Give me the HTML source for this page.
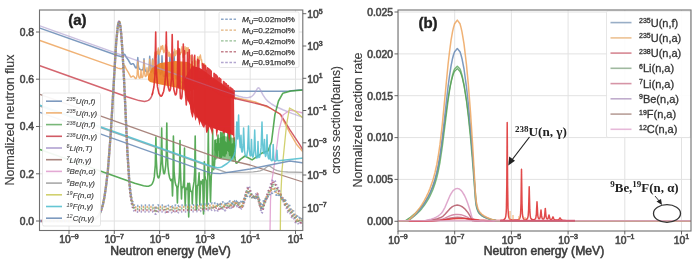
<!DOCTYPE html>
<html><head><meta charset="utf-8"><style>
html,body{margin:0;padding:0;background:#fff;}
body{width:700px;height:263px;overflow:hidden;}
svg{display:block;font-family:"Liberation Sans",sans-serif;filter:blur(0.45px);}
</style></head><body>
<svg x="0" y="0" width="700" height="263"><defs><clipPath id="cl"><rect x="39.5" y="10" width="263.3" height="220.5"/></clipPath><clipPath id="cr"><rect x="398" y="10" width="293" height="221"/></clipPath><filter id="bl" x="-5%" y="-5%" width="110%" height="110%"><feGaussianBlur stdDeviation="0.55"/></filter></defs>
<g clip-path="url(#cl)"><g filter="url(#bl)"><line x1="69.0" y1="10" x2="69.0" y2="230.5" stroke="#e2e2e2" stroke-width="1"/>
<line x1="114.3" y1="10" x2="114.3" y2="230.5" stroke="#e2e2e2" stroke-width="1"/>
<line x1="159.6" y1="10" x2="159.6" y2="230.5" stroke="#e2e2e2" stroke-width="1"/>
<line x1="204.9" y1="10" x2="204.9" y2="230.5" stroke="#e2e2e2" stroke-width="1"/>
<line x1="250.2" y1="10" x2="250.2" y2="230.5" stroke="#e2e2e2" stroke-width="1"/>
<line x1="295.5" y1="10" x2="295.5" y2="230.5" stroke="#e2e2e2" stroke-width="1"/>
<line x1="39.5" y1="221.0" x2="302.8" y2="221.0" stroke="#e2e2e2" stroke-width="1"/>
<line x1="39.5" y1="173.8" x2="302.8" y2="173.8" stroke="#e2e2e2" stroke-width="1"/>
<line x1="39.5" y1="126.5" x2="302.8" y2="126.5" stroke="#e2e2e2" stroke-width="1"/>
<line x1="39.5" y1="79.2" x2="302.8" y2="79.2" stroke="#e2e2e2" stroke-width="1"/>
<line x1="39.5" y1="32.0" x2="302.8" y2="32.0" stroke="#e2e2e2" stroke-width="1"/>
<polyline points="38.5,27.6 118.1,55.8 120.7,56.5 122.1,56.4 122.9,56.0 124.1,54.4 124.5,54.2 124.9,54.6 126.3,57.3 128.3,60.0 130.5,63.8 131.3,64.3 132.5,63.7 133.3,63.8 134.1,64.8 135.5,67.7 135.9,68.0 136.7,67.5 137.1,66.2 137.8,57.5 138.3,64.9 138.7,67.5 139.5,69.0 141.1,69.9 141.9,70.1 142.5,69.9 143.1,68.9 143.5,66.3 144.0,58.7 144.5,66.5 144.9,69.4 145.7,71.1 146.9,71.8 147.7,71.9 148.3,71.5 148.9,69.8 149.3,65.4 149.7,56.3 150.1,65.5 150.7,70.9 150.9,71.5 151.3,71.9 151.7,71.4 151.9,70.6 152.6,59.1 153.3,71.1 153.9,73.3 154.5,74.1 155.3,74.4 156.1,74.4 156.7,74.0 157.1,73.2 157.5,71.5 158.1,63.4 158.5,49.8 159.1,67.5 159.7,72.8 160.1,74.0 160.5,74.4 160.7,74.3 161.1,73.4 161.3,72.2 161.7,65.7 162.0,55.7 162.7,72.7 163.3,75.6 163.7,76.3 164.1,76.5 164.7,76.3 165.1,75.7 165.7,72.6 166.1,66.3 166.5,52.8 167.1,70.3 167.7,75.3 168.1,76.3 168.5,76.4 168.7,76.2 169.3,73.0 170.0,54.8 170.5,70.3 170.9,75.0 171.3,76.9 171.7,77.6 172.1,77.7 172.5,77.0 172.9,75.4 173.3,71.6 174.0,51.9 174.7,71.8 175.3,76.8 175.9,78.4 176.3,78.5 176.7,77.7 177.3,73.4 178.0,53.9 178.5,70.1 178.9,75.9 179.5,79.4 180.1,80.9 180.7,81.7 181.7,82.3 183.1,82.6 191.7,83.2 197.1,84.2 217.5,91.3 285.5,91.3 289.3,91.1 298.9,89.9 303.7,89.8" fill="none" stroke="#6f8fb8" stroke-width="1.5" stroke-linejoin="round"  opacity="0.9"/>
<polyline points="38.5,40.0 105.1,63.7 117.9,68.1 120.5,68.7 122.1,68.5 122.9,67.9 124.1,65.8 124.5,65.5 124.9,65.9 126.3,69.2 128.3,72.3 130.7,76.8 131.1,77.0 131.5,77.0 132.7,76.1 133.3,76.0 133.9,76.5 135.1,78.1 135.7,78.6 136.1,78.4 136.5,77.7 137.1,74.9 137.8,61.4 138.3,72.6 138.7,76.3 139.1,77.7 139.7,78.2 140.1,78.0 140.3,77.6 140.7,74.7 141.0,69.8 141.3,74.6 141.7,77.4 141.9,77.7 142.3,77.6 142.9,76.5 143.5,71.7 144.0,60.5 144.7,73.8 145.1,75.9 145.5,76.5 145.9,76.4 146.3,75.7 146.5,74.8 147.0,67.7 147.5,74.2 147.7,74.9 147.9,75.1 148.1,75.0 148.7,73.6 149.3,68.1 149.7,59.2 150.3,70.1 150.7,71.7 151.1,71.7 151.7,70.4 152.1,68.0 152.6,59.9 153.1,65.8 153.3,65.8 153.7,64.3 155.0,52.3 155.7,57.2 155.9,57.6 156.3,55.7 156.8,51.5 157.3,53.8 157.5,54.0 158.3,47.9 158.9,53.0 159.3,54.7 159.8,52.1 160.1,52.1 160.3,51.5 161.0,46.1 161.7,49.1 161.9,49.1 162.5,45.8 162.6,45.6 162.7,45.7 163.5,51.6 163.9,52.7 164.5,50.6 164.9,49.8 165.6,44.9 166.1,47.6 166.5,46.3 167.1,50.3 167.3,50.0 167.5,50.2 168.3,56.1 168.5,56.0 169.2,52.3 169.9,56.3 170.1,56.2 170.6,53.9 171.1,57.0 171.3,57.7 171.8,57.6 172.5,60.1 172.7,60.0 172.9,59.3 173.5,54.4 173.9,55.7 174.1,55.3 174.6,49.3 175.3,55.6 175.5,55.6 175.7,54.6 176.3,50.8 176.9,53.5 177.1,53.9 177.3,53.6 178.5,48.2 179.3,53.7 179.5,54.3 179.9,54.0 180.2,54.5 180.8,52.3 180.9,52.3 181.1,52.5 181.3,52.4 182.0,46.6 182.9,56.4 183.1,57.3 183.3,57.5 183.8,54.0 184.2,54.9 184.3,54.9 185.0,46.7 185.7,54.0 185.9,53.9 186.1,52.8 186.7,47.6 187.3,50.8 187.5,50.7 188.1,47.8 188.7,52.1 188.8,52.3 189.1,52.0 189.1,52.2 189.7,57.8 189.9,58.1 190.4,55.6 191.1,62.4 191.5,64.4 191.7,64.4 192.3,61.7 192.7,64.2 192.9,65.0 193.1,65.0 194.1,56.8 194.9,64.9 195.1,65.6 195.3,65.3 195.8,61.0 196.3,65.5 196.5,66.4 196.7,66.4 197.1,63.8 197.7,56.8 198.5,63.3 198.9,61.5 199.4,56.8 199.5,56.8 199.7,57.6 199.9,57.5 200.4,55.0 201.1,60.1 201.5,59.6 201.6,60.1 202.1,64.8 202.3,65.5 202.9,64.3 203.5,68.2 203.7,68.3 203.9,67.4 204.3,63.7 204.9,66.5 205.3,65.2 205.4,65.2 206.7,75.9 207.3,79.0 208.3,82.2 209.3,84.4 210.7,86.7 212.1,88.5 213.9,90.3 216.3,92.2 218.9,93.8 222.1,95.3 225.1,96.4 228.9,97.1 234.1,97.3 255.1,102.0 269.9,108.0 279.9,113.9 289.9,132.8 296.9,144.8 302.9,151.9 303.7,152.0" fill="none" stroke="#eeaa66" stroke-width="1.4" stroke-linejoin="round"  opacity="0.9"/>
<polygon points="148,76 152,68 160,63 175,61 188,62 198,68 198,88 188,92 178,88 168,86 158,84 150,82 148,80" fill="#ee7d22" opacity="0.92"/>
<polyline points="38.5,25.4 149.9,65.1 234.1,94.8 238.9,96.2 242.9,97.2 245.9,97.7 248.5,97.6 250.5,97.1 251.9,96.3 253.3,95.0 254.7,93.1 257.3,88.7 258.1,87.9 258.7,87.8 259.3,88.3 259.9,89.1 263.1,95.2 265.3,98.4 268.1,101.4 271.5,104.0 276.3,106.8 282.9,109.8 291.9,113.4 303.7,117.6" fill="none" stroke="#a898cc" stroke-width="1.5" stroke-linejoin="round" opacity="0.6"/>
<polyline points="149.1,64.8 215.9,88.5 234.9,95.0" fill="none" stroke="#a898cc" stroke-width="1.3" stroke-linejoin="round" opacity="0.25"/>
<polygon points="214,140 224,136 234,138 236,150 234,162 226,160 218,158 214,150" fill="#3c9c3c" opacity="0.6"/>
<polyline points="38.5,149.1 134.7,183.3 143.5,185.8 146.7,186.2 148.9,186.1 150.9,185.2 152.3,183.7 153.5,180.8 154.3,176.9 155.3,165.0 155.9,137.0 156.3,159.6 157.1,173.2 157.7,176.7 158.3,177.9 158.7,177.8 159.1,177.1 159.7,174.9 160.5,169.2 161.1,160.1 161.7,128.0 162.0,150.8 162.5,163.8 163.5,172.7 164.1,173.8 164.7,172.8 165.7,165.8 166.3,155.2 166.8,123.0 167.1,148.3 167.9,166.0 168.7,173.1 169.7,178.0 170.9,180.6 171.5,180.4 171.9,179.3 172.5,196.0 173.1,178.0 173.4,136.0 174.1,172.2 175.1,182.1 175.9,185.2 176.7,186.6 176.9,188.0 177.4,203.0 177.9,188.0 178.9,181.8 179.5,172.5 180.0,140.6 180.3,165.7 181.5,199.0 181.9,187.0 182.5,187.9 183.1,187.1 183.9,179.6 184.5,148.1 184.5,185.0 185.2,206.0 185.9,188.0 186.5,189.6 187.1,189.0 187.9,183.2 188.7,217.0 189.5,183.3 190.3,189.8 190.9,191.4 191.7,191.6 191.9,192.0 192.3,204.0 192.9,189.2 194.1,181.4 194.7,171.2 195.2,136.0 195.9,195.0 196.4,210.0 197.3,185.7 197.9,185.1 198.3,183.3 199.1,172.8 199.8,205.0 200.7,181.2 201.1,183.1 201.3,183.5 201.7,183.6 202.7,179.7 203.5,214.0 204.1,196.0 204.3,161.7 204.9,175.4 205.5,179.4 206.1,180.2 207.0,206.0 207.7,185.0 208.3,128.0 208.7,163.8 209.1,172.0 209.7,176.5 210.5,202.0 211.3,175.6 211.9,171.8 212.3,164.9 212.7,130.0 213.0,161.2 213.3,167.9 213.7,169.7 214.3,167.0 214.7,161.4 215.2,140.4 215.7,159.0 216.4,143.8 216.7,154.8 217.1,157.6 218.0,135.0 218.5,150.0 219.1,143.9 219.7,156.4 220.1,158.1 220.5,150.6 220.7,132.3 221.3,157.4 221.9,151.5 222.3,132.9 222.7,149.6 222.9,153.9 223.3,155.8 223.8,147.5 224.1,129.1 224.3,147.5 224.9,156.2 225.6,142.0 226.1,153.7 226.9,143.0 227.5,150.2 227.9,132.4 228.2,148.5 228.5,151.2 229.0,130.9 229.3,149.6 229.5,153.8 229.7,155.4 229.9,155.0 230.5,130.2 230.9,150.8 231.5,158.1 231.9,156.5 232.4,144.1 232.9,155.3 233.1,156.6 233.3,156.3 234.1,137.8 234.9,157.2 235.3,160.4 236.1,163.0 236.7,163.1 237.3,162.8 240.1,159.6 244.9,156.0 252.1,159.9 261.9,153.1 267.9,151.0 268.1,150.7 271.5,142.0 274.9,114.6 278.5,101.0 282.9,93.2 290.7,91.0 303.7,90.0" fill="none" stroke="#3c9c3c" stroke-width="1.6" stroke-linejoin="round" opacity="0.85"/>
<polyline points="38.5,65.3 127.5,97.0 139.1,100.6 144.5,101.4 146.5,101.1 148.3,100.4 149.7,99.3 150.9,97.7 151.9,95.6 152.9,92.4" fill="none" stroke="#cc4a55" stroke-width="1.5" stroke-linejoin="round" opacity="0.85"/>
<polyline points="152.1,95.1 153.9,87.0 154.9,76.1 155.7,32.0 156.1,66.6 157.5,86.9 158.9,93.4 160.5,96.0 161.3,96.1 162.1,95.4 163.7,91.2 164.9,83.6 165.7,72.1 166.3,32.0 167.1,76.1 168.1,86.5 169.3,90.9 169.9,90.7 170.5,88.7 171.5,78.3 172.2,34.5 172.9,78.4 173.9,89.7 175.3,94.9 175.9,94.8 176.5,92.9 177.3,84.5 178.0,41.0 178.3,73.2 178.9,87.9 179.5,49.1 180.1,91.8 180.5,98.4 181.3,98.9 181.9,97.1 182.9,82.6 183.3,44.0 183.9,88.1 184.5,50.7 184.9,85.9 186.3,105.0 187.2,86.5 187.5,52.2 187.9,91.6 188.3,100.7 188.7,96.3 189.3,49.7 189.7,91.3 190.3,102.5 191.5,109.4 192.0,55.0 192.5,111.3 193.1,111.3 193.7,109.4 194.3,100.5 194.7,55.4 195.3,105.4 196.1,113.1 196.4,114.2 196.5,110.9 196.7,67.5 196.9,114.7 197.4,116.7 197.7,59.3 197.8,104.9 198.3,118.0 198.9,60.3 199.0,98.1 199.5,119.3 199.8,119.6 199.9,115.7 200.1,71.3 200.3,111.9 200.4,119.6 200.9,120.5 201.2,69.7 201.5,117.2 201.7,121.1 202.1,121.3 202.5,63.5 203.1,122.1 203.4,64.3 203.7,122.5 204.3,122.8 204.6,65.3 204.9,123.2 205.3,123.4 205.3,121.7 205.6,66.1 205.9,123.8 206.3,124.0 206.5,115.2 206.7,70.5 206.9,118.2 207.3,123.2 207.6,67.9 208.1,125.0 208.5,68.7 208.8,125.3 209.3,108.8 209.4,69.4 209.9,125.8 210.2,70.1 210.5,126.1 210.9,123.4 211.1,111.2 211.2,71.0 211.7,126.6 212.1,81.0 212.3,119.6 212.4,127.0 212.7,126.6 213.0,79.2 213.3,125.7 213.7,127.5 214.0,73.4 214.3,127.7 214.7,118.6 214.8,74.1 215.1,128.0 215.7,74.8 216.1,128.4 216.4,75.4 216.7,128.7 217.1,128.5 217.3,76.2 217.6,129.0 218.1,114.3 218.2,79.0 218.7,129.4 219.1,77.8 219.6,129.8 219.9,78.5 220.2,130.0 220.5,130.1 220.5,129.5 220.7,119.3 220.8,79.2 221.3,130.4 221.8,84.0 222.3,130.7 222.7,89.9 222.9,128.3 223.0,131.0 223.3,129.4 223.6,81.6 223.9,131.3 224.4,82.3 224.9,131.7 225.4,83.2 225.7,132.0 226.1,122.5 226.3,83.9 226.6,132.3 226.9,88.9 227.1,132.4 227.4,132.6 227.5,130.1 227.7,85.2 228.0,132.8 228.4,85.7 228.7,133.0 229.1,132.8 229.3,95.5 229.5,131.7 229.6,133.4 229.9,132.5 230.1,87.2 230.1,97.0 230.8,97.2 230.8,87.9 230.9,97.3 231.7,97.5 231.7,88.6 231.8,97.5 232.6,97.8 232.6,89.4 232.7,97.8 233.3,98.0 233.3,90.0 233.3,98.0 233.9,98.2 233.9,90.6 234.0,98.2 235.9,98.7" fill="none" stroke="#dc2a2c" stroke-width="1.6" stroke-linejoin="round" opacity="0.9"/>
<polyline points="233.6,98.1 233.9,98.2 233.9,90.6 234.0,98.2 266.9,106.0 280.7,114.5 290.1,130.2 299.9,144.8 302.9,149.8 303.1,150.0 303.7,150.0" fill="none" stroke="#cc4a55" stroke-width="1.4" stroke-linejoin="round"  opacity="0.9"/>
<polygon points="184.0,80.0 185.0,78.2 186.0,76.5 187.0,74.8 188.0,73.0 189.0,71.2 190.0,69.5 191.0,67.8 192.0,66.0 193.0,66.2 194.0,66.5 195.0,66.8 196.0,67.0 197.0,67.2 198.0,67.5 199.0,67.8 200.0,68.0 201.0,68.7 202.0,69.4 203.0,70.2 204.0,70.9 205.0,71.6 206.0,72.3 207.0,73.1 208.0,73.8 209.0,74.5 210.0,75.2 211.0,76.0 212.0,76.7 213.0,77.4 214.0,78.1 215.0,78.9 216.0,79.6 217.0,80.3 218.0,81.0 219.0,81.8 220.0,82.5 221.0,83.2 222.0,83.9 223.0,84.7 224.0,85.4 225.0,86.1 226.0,86.8 227.0,87.6 228.0,88.3 229.0,89.0 230.0,89.7 231.0,90.5 232.0,91.2 233.0,91.9 234.0,92.6 234.5,142.4 233.1,135.4 231.6,134.8 230.3,134.2 229.2,141.8 227.9,133.2 226.6,132.7 225.0,132.0 223.6,134.0 222.7,131.2 221.7,130.9 220.2,130.4 219.0,130.0 218.1,129.7 216.5,137.4 215.7,128.9 214.7,128.6 213.4,128.1 212.3,135.5 211.0,130.6 209.6,126.8 208.1,130.3 207.2,132.9 206.1,132.6 205.3,124.2 204.4,127.4 203.3,127.5 201.9,124.9 200.4,121.3 199.5,125.9 197.9,118.2 196.9,116.7 195.4,121.1 193.8,112.5 193.0,117.5 192.2,117.4 190.7,112.2 189.8,105.0 188.3,101.8 187.4,99.7 186.1,96.8 185.2,94.7" fill="#dc2a2c" opacity="0.95"/>
<polyline points="186.1,77.9 220.9,90.3 234.9,95.0" fill="none" stroke="#a898cc" stroke-width="1.2" stroke-linejoin="round" opacity="0.3"/>
<polyline points="38.5,93.9 217.3,157.6 221.5,158.8 229.7,160.2 250.1,165.0 302.9,182.0 303.7,182.0" fill="none" stroke="#a07870" stroke-width="1.3" stroke-linejoin="round"  opacity="0.9"/>
<polyline points="270.0,232.0 270.5,200.0 272.0,180.0 275.0,160.0 279.0,130.0 283.0,115.0 290.0,110.0 303.0,113.0" fill="none" stroke="#e0a0d0" stroke-width="1.3" stroke-linejoin="round"  opacity="0.9"/>
<polyline points="38.5,105.6 226.1,172.3 247.5,172.1 253.3,171.8 257.3,171.4 260.1,170.8 262.5,170.0 264.5,168.8 267.5,166.5 268.9,166.0 270.3,166.4 273.5,168.8 275.3,169.9 277.3,170.7 279.7,171.2 283.1,171.7 287.7,172.0 303.7,172.3" fill="none" stroke="#a0a0a0" stroke-width="1.3" stroke-linejoin="round"  opacity="0.9"/>
<polyline points="280.3,232.0 280.6,200.0 282.0,170.0 286.5,125.0 289.5,108.0 295.0,111.0 303.0,118.0" fill="none" stroke="#cccc60" stroke-width="1.3" stroke-linejoin="round"  opacity="0.9"/>
<polyline points="38.5,104.8 208.5,165.3 214.3,167.1 217.7,167.8 219.7,167.6 221.7,167.0 227.1,163.5 231.7,159.5 233.9,155.7 235.1,151.2 235.9,144.6 236.8,121.9 237.3,136.8 237.7,138.9 238.6,115.0 239.1,133.9 240.1,146.8 240.3,147.5 240.5,147.4 240.7,145.3 241.0,135.3 241.5,149.5 241.9,151.8 242.1,152.1 242.3,151.8 242.5,151.2 243.1,144.4 243.6,127.9 244.5,150.6 245.1,154.5 245.9,156.2 246.5,156.0 246.9,155.1 247.7,149.4 248.5,125.9 249.1,146.3 249.5,151.7 250.1,155.3 250.5,155.9 250.9,154.8 251.5,139.5 252.1,155.2 252.7,157.1 253.1,156.7 253.5,155.2 254.1,149.1 254.7,129.9 255.3,149.1 255.9,155.5 256.7,157.9 257.1,157.9 257.5,156.4 258.0,141.4 258.5,156.3 258.9,157.6 259.5,157.2 260.5,153.4 261.1,147.9 262.0,122.0 262.5,140.7 263.1,150.1 263.5,152.8 263.7,153.4 263.9,153.3 264.5,139.4 264.9,152.5 265.5,156.4 265.9,155.9 266.3,153.1 267.0,134.8 267.5,150.2 268.1,156.9 268.7,158.8 269.1,158.9 269.3,158.3 270.0,145.2 270.5,157.3 270.9,159.8 271.5,160.7 271.9,160.8 272.3,160.3 272.7,158.5 273.2,144.4 273.7,158.5 274.1,160.4 274.7,161.1 275.9,161.0 276.5,159.8 277.0,150.3 277.5,159.7 277.7,160.4 278.3,160.8 303.7,158.0" fill="none" stroke="#55c0d0" stroke-width="1.5" stroke-linejoin="round"  opacity="0.9"/>
<polyline points="38.5,111.8 205.5,171.3 211.1,172.9 214.3,173.3 220.1,173.6 250.1,169.0 289.9,161.0 303.7,163.0" fill="none" stroke="#6f8fb8" stroke-width="1.4" stroke-linejoin="round"  opacity="0.9"/>
<polyline points="39.5,221.0 81.0,221.0 86.5,220.8 90.2,220.5 93.8,219.6 95.2,218.8 96.5,217.9 97.8,216.7 98.8,215.3 100.8,211.4 102.8,205.1 104.5,196.8 106.2,184.9 107.8,171.2 109.2,153.8 110.8,132.6 116.2,42.0 117.8,26.4 118.5,22.6 119.0,21.8 119.5,22.3 119.8,23.1 120.5,27.2 121.2,34.2 122.2,47.6 123.8,74.9 127.5,154.3 129.5,185.2 130.5,195.5 131.8,203.9 133.0,208.6 134.2,210.8 135.2,211.5 136.8,211.8 143.5,211.6 153.2,211.6 154.2,212.1 155.2,213.6 155.8,213.9 157.2,212.0 157.8,211.7 158.5,211.6 164.5,211.6 165.2,212.0 166.2,213.2 166.8,213.4 168.2,211.9 169.2,211.6 170.8,211.7 172.5,213.0 174.2,211.7 175.5,211.6 177.5,213.0 179.0,211.8 180.0,211.6 189.8,211.5 199.5,211.1 201.2,210.8 203.0,210.9 205.0,210.4 206.8,210.8 208.5,210.0 210.5,210.7 212.2,209.5 212.8,209.7 214.0,210.6 214.5,210.4 215.5,209.3 216.0,209.1 217.8,210.6 218.2,210.3 219.2,208.9 219.8,208.7 220.2,209.1 221.0,210.2 221.5,210.5 222.0,210.1 222.8,208.8 223.2,208.3 223.8,208.6 225.0,210.4 225.5,210.1 226.5,208.1 227.0,207.5 227.5,207.7 228.2,208.9 228.8,209.3 229.2,208.9 230.2,206.9 230.8,206.4 231.2,206.7 232.0,207.7 232.5,208.0 233.0,207.5 234.0,205.3 234.5,204.8 235.0,205.1 236.0,206.4 236.8,206.1 237.8,205.2 238.0,205.2 238.5,205.9 239.8,209.0 240.2,209.4 241.5,208.3 242.0,208.5 243.2,205.7 244.0,202.7 245.5,194.4 247.2,189.6 248.0,185.9 248.8,186.3 249.2,187.2 250.8,193.0 251.2,194.2 252.5,195.2 253.0,196.1 253.5,196.3 254.2,197.1 254.8,197.1 256.5,193.4 256.8,193.2 257.2,193.5 258.5,200.5 260.0,205.8 261.5,213.3 262.0,212.7 262.5,211.3 264.2,203.9 265.8,201.0 267.8,192.3 268.2,191.4 269.0,190.7 269.5,189.7 271.5,181.7 273.0,179.7 273.5,180.6 274.5,180.8 275.0,181.3 277.0,187.5 277.5,188.0 278.2,188.0 278.8,188.6 280.5,194.6 281.0,195.6 282.0,196.3 282.5,197.2 284.2,203.8 284.8,204.7 285.5,205.2 286.0,205.8 287.5,211.0 288.0,212.1 288.5,212.3 289.2,211.9 289.8,212.1 290.2,213.0 291.2,216.1 291.8,217.1 292.2,217.3 293.0,216.9 293.5,217.0 294.0,218.0 295.0,221.2 295.5,222.1 296.0,222.2 296.8,221.8 297.2,221.8 297.8,222.4 298.8,224.4 299.2,224.7 300.5,223.1 301.0,223.0 302.8,225.9" fill="none" stroke="#9888c0" stroke-width="2.3" stroke-linejoin="round" stroke-dasharray="1.4,2.4" stroke-dashoffset="2.8" opacity="0.8"/>
<polyline points="39.5,221.0 81.0,221.0 86.5,220.8 90.2,220.5 93.8,219.6 95.2,218.8 96.5,217.9 97.8,216.7 98.8,215.3 100.8,211.4 102.8,205.1 104.5,196.8 106.2,184.9 107.8,171.2 109.2,153.8 110.8,132.6 116.2,42.0 117.8,26.4 118.5,22.5 119.0,21.7 119.5,22.3 119.8,23.0 120.5,27.2 121.2,34.1 122.2,47.4 123.8,74.7 127.2,148.9 129.2,181.2 130.2,192.2 131.5,201.4 132.8,206.6 133.5,208.4 134.2,209.4 135.2,210.1 136.5,210.4 143.5,210.1 153.2,210.1 154.2,210.6 155.2,212.1 155.8,212.4 157.2,210.5 157.8,210.1 158.5,210.0 164.5,210.1 165.2,210.5 166.2,211.7 166.8,211.9 168.2,210.4 169.2,210.0 170.8,210.2 172.5,211.4 174.2,210.2 175.5,210.1 177.5,211.4 179.0,210.3 179.8,210.1 192.2,209.9 200.2,209.5 202.0,209.2 203.8,209.4 205.8,208.8 207.5,209.3 209.0,208.4 209.5,208.3 210.8,209.1 211.2,209.1 213.0,207.9 213.5,208.0 214.5,209.0 215.0,209.0 216.2,207.7 216.8,207.4 217.2,207.7 218.0,208.7 218.5,209.0 219.0,208.7 220.0,207.3 220.5,207.1 221.0,207.5 221.8,208.6 222.2,208.9 222.8,208.6 224.0,206.8 224.5,207.0 225.5,208.5 226.0,208.6 227.8,205.9 228.2,206.1 229.2,207.6 229.8,207.7 231.0,205.4 231.5,204.8 232.0,205.1 232.8,206.2 233.2,206.6 233.8,206.1 234.8,203.9 235.2,203.5 235.8,203.8 236.8,205.4 237.2,205.8 238.5,204.7 239.0,204.9 240.2,207.8 240.8,208.5 241.0,208.5 242.0,207.4 242.8,204.5 244.2,201.6 246.2,192.3 246.8,191.0 248.0,188.6 248.5,189.4 249.5,189.7 250.0,190.3 251.5,195.6 252.2,196.9 253.0,197.0 253.8,195.9 254.2,196.1 255.0,197.0 255.5,197.1 256.0,196.4 257.0,194.0 257.2,193.6 257.5,194.0 259.2,203.7 261.0,208.3 261.5,210.4 262.5,209.8 263.0,208.8 264.8,201.4 265.2,200.4 266.0,199.6 266.5,198.7 268.2,192.0 268.8,190.9 269.8,190.2 270.2,189.5 272.0,183.0 272.5,182.0 273.0,181.6 274.0,184.5 274.5,184.9 275.5,184.8 276.0,185.5 277.8,190.7 278.2,191.0 279.0,190.9 279.5,191.2 280.0,192.4 281.2,197.0 281.8,197.8 282.8,198.2 283.2,198.8 285.0,204.8 285.5,205.6 286.2,205.8 286.8,206.2 288.8,211.5 289.2,211.8 290.0,211.4 290.5,211.5 291.0,212.4 292.0,215.5 292.5,216.5 293.0,216.7 293.8,216.3 294.2,216.5 294.8,217.5 295.8,220.6 296.2,221.5 296.5,221.7 297.0,221.5 297.5,220.7 298.0,220.5 298.5,221.0 299.8,223.4 300.2,223.3 301.5,221.7 302.0,221.9 302.8,223.4" fill="none" stroke="#b05a68" stroke-width="2.3" stroke-linejoin="round" stroke-dasharray="1.4,2.4" stroke-dashoffset="2.1" opacity="0.8"/>
<polyline points="39.5,221.0 81.0,221.0 86.5,220.8 90.2,220.5 93.8,219.6 95.2,218.8 96.5,217.9 97.8,216.7 98.8,215.3 100.8,211.4 102.8,205.1 104.5,196.8 106.2,184.9 107.8,171.2 109.2,153.8 110.8,132.6 116.2,42.0 117.8,26.3 118.5,22.5 119.0,21.7 119.5,22.2 119.8,23.0 120.5,27.1 121.2,34.0 122.2,47.3 123.8,74.4 127.2,148.3 129.2,180.3 130.2,191.2 131.5,200.3 132.8,205.4 134.0,207.8 135.0,208.6 136.2,208.9 143.2,208.5 153.2,208.5 154.2,209.0 155.2,210.5 155.8,210.8 157.2,208.9 157.8,208.6 158.5,208.5 164.5,208.5 165.2,208.9 166.2,210.1 166.8,210.4 168.2,208.8 169.2,208.5 170.8,208.6 172.5,209.9 174.2,208.6 175.5,208.6 177.5,209.9 179.0,208.8 180.0,208.5 192.5,208.3 201.0,207.9 202.8,207.6 204.5,207.8 206.5,207.2 208.2,207.7 209.8,206.8 210.2,206.7 211.5,207.5 212.0,207.6 213.8,206.3 214.2,206.4 215.2,207.4 215.8,207.5 217.0,206.1 217.5,205.8 218.0,206.1 218.8,207.1 219.2,207.5 219.8,207.2 220.8,205.7 221.2,205.4 221.8,205.9 222.5,207.1 223.0,207.4 223.5,207.0 224.8,205.2 225.2,205.3 226.2,206.8 226.8,207.0 228.5,204.3 229.0,204.5 230.2,206.2 230.8,206.0 231.8,203.9 232.2,203.4 232.8,203.6 233.8,205.1 234.2,205.1 235.5,202.7 236.0,202.3 236.5,202.6 237.2,204.5 237.8,205.2 238.2,205.2 239.2,204.0 239.8,204.1 241.2,207.2 241.8,207.5 242.0,207.3 243.2,201.9 243.8,200.7 245.0,199.2 247.0,191.2 247.5,190.2 248.0,189.7 249.0,192.4 249.5,192.6 250.2,192.5 250.8,192.9 252.2,197.6 253.0,198.7 254.2,196.0 254.8,195.9 255.8,197.1 256.2,197.3 257.5,195.2 258.2,197.3 260.0,205.7 260.5,206.9 261.5,208.6 262.0,207.4 262.2,207.0 263.2,206.4 263.8,205.5 265.5,199.0 266.0,198.2 267.0,197.6 267.5,196.8 269.2,191.1 269.8,190.5 270.5,190.5 271.0,190.0 273.0,183.7 274.8,188.4 275.2,188.7 276.0,188.3 276.5,188.4 277.0,189.3 278.0,192.5 278.5,193.5 279.0,193.6 279.8,193.2 280.2,193.6 282.2,199.3 282.8,199.6 283.5,199.5 284.0,200.0 285.8,205.3 286.2,205.9 287.2,205.8 287.8,206.3 289.5,211.0 290.0,211.3 291.0,210.9 291.5,211.3 293.2,216.0 293.8,216.2 294.5,215.8 295.0,216.0 297.0,221.0 297.5,220.6 298.2,219.5 298.8,219.2 299.2,219.7 300.5,222.1 301.0,222.0 302.2,220.4 302.8,220.6" fill="none" stroke="#70a870" stroke-width="2.3" stroke-linejoin="round" stroke-dasharray="1.4,2.4" stroke-dashoffset="1.4" opacity="0.8"/>
<polyline points="39.5,221.0 81.0,221.0 86.5,220.8 90.2,220.5 93.8,219.6 95.2,218.8 96.5,217.9 97.8,216.7 98.8,215.3 100.8,211.4 102.8,205.1 104.5,196.8 106.2,184.9 107.8,171.2 109.2,153.8 110.8,132.6 116.2,42.0 117.8,26.3 118.5,22.4 119.0,21.6 119.5,22.2 119.8,22.9 120.5,27.0 121.2,33.9 122.2,47.1 123.8,74.2 127.2,147.7 129.2,179.4 130.2,190.2 131.5,199.1 132.8,204.1 134.0,206.4 135.0,207.2 136.2,207.4 143.0,207.0 153.2,207.0 154.2,207.5 155.2,209.0 155.8,209.3 157.2,207.4 157.8,207.1 158.5,207.0 164.5,207.0 165.2,207.4 166.2,208.6 166.8,208.8 168.2,207.3 169.2,207.0 170.8,207.1 172.5,208.4 174.2,207.1 175.5,207.0 177.5,208.4 179.0,207.2 180.0,207.0 193.0,206.8 200.0,206.3 201.8,206.4 203.5,206.0 205.2,206.2 207.2,205.5 209.0,206.1 210.5,205.2 211.0,205.1 212.2,205.9 212.8,206.0 214.5,204.6 215.0,204.8 216.0,205.8 216.5,206.0 217.8,204.5 218.2,204.2 218.8,204.5 220.0,205.9 220.5,205.7 221.5,204.1 222.0,203.8 222.5,204.3 223.2,205.5 223.8,205.9 224.2,205.5 225.2,203.8 225.8,203.5 226.2,203.9 227.0,205.2 227.5,205.4 228.0,204.9 228.8,203.4 229.2,202.8 229.8,203.0 231.0,204.8 231.5,204.5 232.5,202.5 233.0,202.0 233.5,202.3 234.5,203.8 235.0,203.9 236.5,201.3 237.0,201.6 238.5,204.5 239.0,204.4 240.0,203.1 240.5,203.1 242.0,206.1 242.5,204.9 244.0,199.4 244.5,198.5 245.5,198.1 246.0,197.3 247.5,191.7 248.0,190.6 249.5,194.8 250.0,195.2 251.0,194.8 251.5,195.0 253.0,199.1 253.2,199.2 253.8,198.7 254.8,196.5 255.2,196.0 255.8,196.3 256.8,197.6 257.5,197.4 258.5,198.3 259.2,200.3 260.8,206.7 261.5,208.4 262.2,205.3 262.8,204.0 263.0,203.7 264.0,203.6 264.5,203.0 266.2,197.4 266.8,196.9 267.5,197.0 268.0,196.8 268.5,195.8 270.0,191.4 270.5,191.1 271.2,191.4 271.8,191.1 272.2,190.0 273.0,187.5 273.2,187.4 273.8,187.6 274.0,188.1 275.5,191.8 276.0,192.0 276.8,191.3 277.2,191.3 277.8,192.1 278.8,194.9 279.2,195.8 279.8,195.8 280.5,195.3 281.0,195.5 281.5,196.5 282.8,200.2 283.2,200.7 284.2,200.3 284.8,200.5 286.5,205.2 287.0,205.7 288.0,205.4 288.5,205.8 290.2,210.5 290.8,210.8 291.5,210.4 292.0,210.5 292.5,211.3 294.0,215.5 294.5,215.7 295.2,215.3 295.8,215.5 296.2,216.4 297.0,218.7 297.5,219.6 298.0,219.6 299.0,218.2 299.5,217.9 300.0,218.4 301.2,220.8 301.8,220.7 302.8,219.3" fill="none" stroke="#d89850" stroke-width="2.3" stroke-linejoin="round" stroke-dasharray="1.4,2.4" stroke-dashoffset="0.7" opacity="0.8"/>
<polyline points="39.5,221.0 81.0,221.0 86.5,220.8 90.2,220.5 93.8,219.6 95.2,218.8 96.5,217.9 97.8,216.7 98.8,215.3 100.8,211.4 102.8,205.1 104.5,196.8 106.2,184.9 107.8,171.2 109.2,153.8 110.8,132.6 116.2,42.0 117.8,26.3 118.5,22.4 119.0,21.6 119.5,22.1 119.8,22.8 120.5,26.9 121.2,33.8 122.2,47.0 123.8,73.9 127.2,147.1 129.2,178.5 130.2,189.2 131.5,198.0 132.8,202.8 134.0,205.1 135.0,205.8 136.2,206.0 142.8,205.5 153.2,205.4 154.2,206.0 155.2,207.5 155.8,207.8 157.2,205.9 157.8,205.5 158.5,205.4 164.5,205.5 165.2,205.8 166.2,207.0 166.8,207.3 168.2,205.8 169.2,205.4 170.8,205.6 172.5,206.8 174.2,205.6 175.5,205.5 177.5,206.8 179.0,205.7 180.0,205.4 189.8,205.3 198.8,205.0 200.8,204.7 202.2,204.8 204.2,204.3 206.0,204.7 208.0,203.9 209.8,204.6 210.2,204.4 211.2,203.6 211.8,203.4 213.0,204.3 213.5,204.5 215.2,203.0 215.8,203.2 216.8,204.3 217.2,204.4 218.5,202.9 219.0,202.6 219.5,202.9 220.8,204.4 221.2,204.1 222.2,202.5 222.8,202.2 224.5,204.3 225.0,204.0 226.0,202.1 226.5,201.8 227.0,202.3 227.8,203.6 228.2,203.9 228.8,203.4 229.5,201.9 230.0,201.3 230.5,201.6 231.5,203.2 232.0,203.4 232.5,202.8 233.2,201.3 233.8,200.7 234.2,201.0 235.0,202.3 235.5,202.8 236.0,202.5 237.0,200.8 237.5,200.6 239.2,203.6 239.8,203.4 241.0,201.8 241.5,202.2 242.0,203.3 242.8,203.2 243.2,202.4 244.5,198.4 245.0,197.4 245.5,197.2 246.2,197.4 246.8,196.9 248.0,193.1 248.2,193.0 248.8,193.4 250.0,196.6 250.5,197.3 251.0,197.2 251.8,196.5 252.2,196.5 253.5,198.9 254.0,199.3 254.5,198.9 255.8,196.5 256.2,196.4 257.2,197.8 258.0,199.4 258.2,199.6 259.2,199.7 259.5,200.0 260.2,202.0 261.5,207.8 263.0,202.1 263.2,201.5 263.8,201.1 264.8,201.6 265.2,201.2 267.0,196.6 267.5,196.4 268.2,196.9 268.8,197.0 269.2,196.2 270.2,193.4 270.8,192.4 271.2,192.3 272.2,193.0 272.5,192.9 273.8,191.2 274.2,191.0 274.8,191.5 276.2,194.8 276.8,194.8 277.5,194.0 278.0,193.8 278.5,194.3 279.5,196.9 280.0,197.6 280.5,197.6 281.2,197.0 281.8,196.9 282.2,197.7 283.2,200.4 283.8,201.2 284.2,201.1 285.0,200.5 285.5,200.5 286.0,201.4 287.5,205.2 288.0,205.3 288.8,204.9 289.2,205.2 291.0,209.9 291.5,210.3 292.5,209.8 293.0,210.3 294.8,214.9 295.2,215.2 296.0,214.8 296.5,214.9 298.0,217.9 298.5,218.4 299.0,218.1 299.8,216.9 300.2,216.6 300.8,217.1 302.0,219.5 302.2,219.6 302.8,219.2" fill="none" stroke="#6a8cb8" stroke-width="2.3" stroke-linejoin="round" stroke-dasharray="1.4,2.4" stroke-dashoffset="0.0" opacity="0.8"/></g></g>
<rect x="42.5" y="93" width="58" height="133" fill="#fff" fill-opacity="0.93" stroke="#e0e0e0" stroke-width="0.8" rx="1.5"/>
<line x1="46" y1="101.2" x2="62" y2="101.2" stroke="#6f8fb8" stroke-width="1.6" opacity="0.9"/>
<text x="66.5" y="104.0" font-size="7.9" font-style="italic" fill="#404040" stroke="#404040" stroke-width="0.15"><tspan font-size="5.5" dy="-2.6" stroke-width="0.05">235</tspan><tspan dy="2.6">U(n,f)</tspan></text>
<line x1="46" y1="112.9" x2="62" y2="112.9" stroke="#eeaa66" stroke-width="1.6" opacity="0.9"/>
<text x="66.5" y="115.7" font-size="7.9" font-style="italic" fill="#404040" stroke="#404040" stroke-width="0.15"><tspan font-size="5.5" dy="-2.6" stroke-width="0.05">235</tspan><tspan dy="2.6">U(n,γ)</tspan></text>
<line x1="46" y1="124.6" x2="62" y2="124.6" stroke="#6ab06a" stroke-width="1.6" opacity="0.9"/>
<text x="66.5" y="127.4" font-size="7.9" font-style="italic" fill="#404040" stroke="#404040" stroke-width="0.15"><tspan font-size="5.5" dy="-2.6" stroke-width="0.05">238</tspan><tspan dy="2.6">U(n,f)</tspan></text>
<line x1="46" y1="136.3" x2="62" y2="136.3" stroke="#cc4a55" stroke-width="1.6" opacity="0.9"/>
<text x="66.5" y="139.1" font-size="7.9" font-style="italic" fill="#404040" stroke="#404040" stroke-width="0.15"><tspan font-size="5.5" dy="-2.6" stroke-width="0.05">238</tspan><tspan dy="2.6">U(n,γ)</tspan></text>
<line x1="46" y1="148.0" x2="62" y2="148.0" stroke="#a898cc" stroke-width="1.6" opacity="0.9"/>
<text x="66.5" y="150.8" font-size="7.9" font-style="italic" fill="#404040" stroke="#404040" stroke-width="0.15"><tspan font-size="5.5" dy="-2.6" stroke-width="0.05">6</tspan><tspan dy="2.6">Li(n,T)</tspan></text>
<line x1="46" y1="159.7" x2="62" y2="159.7" stroke="#a07870" stroke-width="1.6" opacity="0.9"/>
<text x="66.5" y="162.5" font-size="7.9" font-style="italic" fill="#404040" stroke="#404040" stroke-width="0.15"><tspan font-size="5.5" dy="-2.6" stroke-width="0.05">7</tspan><tspan dy="2.6">Li(n,γ)</tspan></text>
<line x1="46" y1="171.4" x2="62" y2="171.4" stroke="#e0a0d0" stroke-width="1.6" opacity="0.9"/>
<text x="66.5" y="174.2" font-size="7.9" font-style="italic" fill="#404040" stroke="#404040" stroke-width="0.15"><tspan font-size="5.5" dy="-2.6" stroke-width="0.05">9</tspan><tspan dy="2.6">Be(n,α)</tspan></text>
<line x1="46" y1="183.1" x2="62" y2="183.1" stroke="#a0a0a0" stroke-width="1.6" opacity="0.9"/>
<text x="66.5" y="185.9" font-size="7.9" font-style="italic" fill="#404040" stroke="#404040" stroke-width="0.15"><tspan font-size="5.5" dy="-2.6" stroke-width="0.05">9</tspan><tspan dy="2.6">Be(n,γ)</tspan></text>
<line x1="46" y1="194.8" x2="62" y2="194.8" stroke="#cccc60" stroke-width="1.6" opacity="0.9"/>
<text x="66.5" y="197.6" font-size="7.9" font-style="italic" fill="#404040" stroke="#404040" stroke-width="0.15"><tspan font-size="5.5" dy="-2.6" stroke-width="0.05">19</tspan><tspan dy="2.6">F(n,α)</tspan></text>
<line x1="46" y1="206.5" x2="62" y2="206.5" stroke="#55c0d0" stroke-width="1.6" opacity="0.9"/>
<text x="66.5" y="209.3" font-size="7.9" font-style="italic" fill="#404040" stroke="#404040" stroke-width="0.15"><tspan font-size="5.5" dy="-2.6" stroke-width="0.05">19</tspan><tspan dy="2.6">F(n,γ)</tspan></text>
<line x1="46" y1="218.2" x2="62" y2="218.2" stroke="#6f8fb8" stroke-width="1.6" opacity="0.9"/>
<text x="66.5" y="221.0" font-size="7.9" font-style="italic" fill="#404040" stroke="#404040" stroke-width="0.15"><tspan font-size="5.5" dy="-2.6" stroke-width="0.05">12</tspan><tspan dy="2.6">C(n,γ)</tspan></text>
<rect x="219" y="12" width="80" height="55.5" fill="#fff" fill-opacity="0.93" stroke="#e0e0e0" stroke-width="0.8" rx="1.5"/>
<line x1="221" y1="19.3" x2="236" y2="19.3" stroke="#6a8cb8" stroke-width="1.4" stroke-dasharray="2.6,1.6" opacity="0.75"/>
<text x="242" y="22.1" font-size="7.5" fill="#3a3a3a" stroke="#3a3a3a" stroke-width="0.25" textLength="53" lengthAdjust="spacingAndGlyphs"><tspan font-style="italic">M</tspan><tspan font-size="5.5" dy="1.5">U</tspan><tspan dy="-1.5">=0.02mol%</tspan></text>
<line x1="221" y1="30.1" x2="236" y2="30.1" stroke="#d89850" stroke-width="1.4" stroke-dasharray="2.6,1.6" opacity="0.75"/>
<text x="242" y="32.9" font-size="7.5" fill="#3a3a3a" stroke="#3a3a3a" stroke-width="0.25" textLength="53" lengthAdjust="spacingAndGlyphs"><tspan font-style="italic">M</tspan><tspan font-size="5.5" dy="1.5">U</tspan><tspan dy="-1.5">=0.22mol%</tspan></text>
<line x1="221" y1="40.9" x2="236" y2="40.9" stroke="#70a870" stroke-width="1.4" stroke-dasharray="2.6,1.6" opacity="0.75"/>
<text x="242" y="43.7" font-size="7.5" fill="#3a3a3a" stroke="#3a3a3a" stroke-width="0.25" textLength="53" lengthAdjust="spacingAndGlyphs"><tspan font-style="italic">M</tspan><tspan font-size="5.5" dy="1.5">U</tspan><tspan dy="-1.5">=0.42mol%</tspan></text>
<line x1="221" y1="51.7" x2="236" y2="51.7" stroke="#b05a68" stroke-width="1.4" stroke-dasharray="2.6,1.6" opacity="0.75"/>
<text x="242" y="54.5" font-size="7.5" fill="#3a3a3a" stroke="#3a3a3a" stroke-width="0.25" textLength="53" lengthAdjust="spacingAndGlyphs"><tspan font-style="italic">M</tspan><tspan font-size="5.5" dy="1.5">U</tspan><tspan dy="-1.5">=0.62mol%</tspan></text>
<line x1="221" y1="62.5" x2="236" y2="62.5" stroke="#9888c0" stroke-width="1.4" stroke-dasharray="2.6,1.6" opacity="0.75"/>
<text x="242" y="65.3" font-size="7.5" fill="#3a3a3a" stroke="#3a3a3a" stroke-width="0.25" textLength="53" lengthAdjust="spacingAndGlyphs"><tspan font-style="italic">M</tspan><tspan font-size="5.5" dy="1.5">U</tspan><tspan dy="-1.5">=0.91mol%</tspan></text>
<rect x="39.5" y="10" width="263.3" height="220.5" fill="none" stroke="#707070" stroke-width="1.1"/>
<line x1="69.0" y1="230.5" x2="69.0" y2="234.0" stroke="#555" stroke-width="0.9"/>
<text x="69.0" y="243" font-size="10.3" fill="#4a4a4a" stroke="#4a4a4a" stroke-width="0.6" text-anchor="middle">10<tspan font-size="7" dy="-4.5">−9</tspan></text>
<line x1="114.3" y1="230.5" x2="114.3" y2="234.0" stroke="#555" stroke-width="0.9"/>
<text x="114.3" y="243" font-size="10.3" fill="#4a4a4a" stroke="#4a4a4a" stroke-width="0.6" text-anchor="middle">10<tspan font-size="7" dy="-4.5">−7</tspan></text>
<line x1="159.6" y1="230.5" x2="159.6" y2="234.0" stroke="#555" stroke-width="0.9"/>
<text x="159.6" y="243" font-size="10.3" fill="#4a4a4a" stroke="#4a4a4a" stroke-width="0.6" text-anchor="middle">10<tspan font-size="7" dy="-4.5">−5</tspan></text>
<line x1="204.9" y1="230.5" x2="204.9" y2="234.0" stroke="#555" stroke-width="0.9"/>
<text x="204.9" y="243" font-size="10.3" fill="#4a4a4a" stroke="#4a4a4a" stroke-width="0.6" text-anchor="middle">10<tspan font-size="7" dy="-4.5">−3</tspan></text>
<line x1="250.2" y1="230.5" x2="250.2" y2="234.0" stroke="#555" stroke-width="0.9"/>
<text x="250.2" y="243" font-size="10.3" fill="#4a4a4a" stroke="#4a4a4a" stroke-width="0.6" text-anchor="middle">10<tspan font-size="7" dy="-4.5">−1</tspan></text>
<line x1="295.5" y1="230.5" x2="295.5" y2="234.0" stroke="#555" stroke-width="0.9"/>
<text x="295.5" y="243" font-size="10.3" fill="#4a4a4a" stroke="#4a4a4a" stroke-width="0.6" text-anchor="middle">10<tspan font-size="7" dy="-4.5">1</tspan></text>
<line x1="36.0" y1="221.0" x2="39.5" y2="221.0" stroke="#555" stroke-width="0.9"/>
<text x="34" y="224.8" font-size="10.3" fill="#4a4a4a" stroke="#4a4a4a" stroke-width="0.6" text-anchor="end">0.0</text>
<line x1="36.0" y1="173.8" x2="39.5" y2="173.8" stroke="#555" stroke-width="0.9"/>
<text x="34" y="177.6" font-size="10.3" fill="#4a4a4a" stroke="#4a4a4a" stroke-width="0.6" text-anchor="end">0.2</text>
<line x1="36.0" y1="126.5" x2="39.5" y2="126.5" stroke="#555" stroke-width="0.9"/>
<text x="34" y="130.3" font-size="10.3" fill="#4a4a4a" stroke="#4a4a4a" stroke-width="0.6" text-anchor="end">0.4</text>
<line x1="36.0" y1="79.2" x2="39.5" y2="79.2" stroke="#555" stroke-width="0.9"/>
<text x="34" y="83.0" font-size="10.3" fill="#4a4a4a" stroke="#4a4a4a" stroke-width="0.6" text-anchor="end">0.6</text>
<line x1="36.0" y1="32.0" x2="39.5" y2="32.0" stroke="#555" stroke-width="0.9"/>
<text x="34" y="35.8" font-size="10.3" fill="#4a4a4a" stroke="#4a4a4a" stroke-width="0.6" text-anchor="end">0.8</text>
<line x1="302.8" y1="207.3" x2="306.3" y2="207.3" stroke="#555" stroke-width="0.9"/>
<text x="307.3" y="211.7" font-size="10.3" fill="#4a4a4a" stroke="#4a4a4a" stroke-width="0.6">10<tspan font-size="7" dy="-4.5">−7</tspan></text>
<line x1="302.8" y1="175.0" x2="306.3" y2="175.0" stroke="#555" stroke-width="0.9"/>
<text x="307.3" y="179.4" font-size="10.3" fill="#4a4a4a" stroke="#4a4a4a" stroke-width="0.6">10<tspan font-size="7" dy="-4.5">−5</tspan></text>
<line x1="302.8" y1="142.8" x2="306.3" y2="142.8" stroke="#555" stroke-width="0.9"/>
<text x="307.3" y="147.2" font-size="10.3" fill="#4a4a4a" stroke="#4a4a4a" stroke-width="0.6">10<tspan font-size="7" dy="-4.5">−3</tspan></text>
<line x1="302.8" y1="110.5" x2="306.3" y2="110.5" stroke="#555" stroke-width="0.9"/>
<text x="307.3" y="114.9" font-size="10.3" fill="#4a4a4a" stroke="#4a4a4a" stroke-width="0.6">10<tspan font-size="7" dy="-4.5">−1</tspan></text>
<line x1="302.8" y1="78.3" x2="306.3" y2="78.3" stroke="#555" stroke-width="0.9"/>
<text x="307.3" y="82.7" font-size="10.3" fill="#4a4a4a" stroke="#4a4a4a" stroke-width="0.6">10<tspan font-size="7" dy="-4.5">1</tspan></text>
<line x1="302.8" y1="46.0" x2="306.3" y2="46.0" stroke="#555" stroke-width="0.9"/>
<text x="307.3" y="50.4" font-size="10.3" fill="#4a4a4a" stroke="#4a4a4a" stroke-width="0.6">10<tspan font-size="7" dy="-4.5">3</tspan></text>
<line x1="302.8" y1="13.7" x2="306.3" y2="13.7" stroke="#555" stroke-width="0.9"/>
<text x="307.3" y="18.1" font-size="10.3" fill="#4a4a4a" stroke="#4a4a4a" stroke-width="0.6">10<tspan font-size="7" dy="-4.5">5</tspan></text>
<text x="170.5" y="254.8" font-size="12.2" fill="#3c3c3c" stroke="#3c3c3c" stroke-width="0.55" text-anchor="middle">Neutron energy (MeV)</text>
<text transform="translate(14.2,120) rotate(-90)" font-size="12.4" fill="#3a3a3a" stroke="#3a3a3a" stroke-width="0.15" text-anchor="middle">Normalized neutron flux</text>
<text transform="translate(339.5,120) rotate(-90)" font-size="12" fill="#3a3a3a" stroke="#3a3a3a" stroke-width="0.15" text-anchor="middle">cross section(barns)</text>
<rect x="66" y="12" width="23" height="19" fill="#fff"/>
<text x="77.4" y="25.2" font-size="15" font-weight="bold" fill="#222" stroke="#222" stroke-width="0.4" text-anchor="middle">(a)</text>
<g clip-path="url(#cr)"><g filter="url(#bl)"><line x1="398.0" y1="10" x2="398.0" y2="231" stroke="#e2e2e2" stroke-width="1"/>
<line x1="454.7" y1="10" x2="454.7" y2="231" stroke="#e2e2e2" stroke-width="1"/>
<line x1="511.4" y1="10" x2="511.4" y2="231" stroke="#e2e2e2" stroke-width="1"/>
<line x1="568.1" y1="10" x2="568.1" y2="231" stroke="#e2e2e2" stroke-width="1"/>
<line x1="624.8" y1="10" x2="624.8" y2="231" stroke="#e2e2e2" stroke-width="1"/>
<line x1="681.5" y1="10" x2="681.5" y2="231" stroke="#e2e2e2" stroke-width="1"/>
<line x1="398" y1="221.3" x2="691" y2="221.3" stroke="#e2e2e2" stroke-width="1"/>
<line x1="398" y1="179.4" x2="691" y2="179.4" stroke="#e2e2e2" stroke-width="1"/>
<line x1="398" y1="137.6" x2="691" y2="137.6" stroke="#e2e2e2" stroke-width="1"/>
<line x1="398" y1="95.7" x2="691" y2="95.7" stroke="#e2e2e2" stroke-width="1"/>
<line x1="398" y1="53.9" x2="691" y2="53.9" stroke="#e2e2e2" stroke-width="1"/>
<line x1="398" y1="12.0" x2="691" y2="12.0" stroke="#e2e2e2" stroke-width="1"/>
<polyline points="396.0,221.0 424.0,221.0 436.2,220.6 442.9,219.9 449.7,218.2 452.4,217.7 457.3,217.3 461.0,217.5 464.5,218.1 467.8,219.0 472.4,220.7 478.5,221.0 693.0,221.0" fill="none" stroke="#c07080" stroke-width="1.4" stroke-linejoin="round"  opacity="0.9"/>
<polyline points="396.0,221.0 424.0,221.0 436.2,220.2 440.1,219.7 442.9,219.0 445.0,218.2 449.7,215.9 452.4,215.0 455.2,214.5 457.3,214.4 461.0,214.7 464.5,215.8 467.8,217.4 472.4,220.5 474.4,220.8 478.5,221.0 693.0,221.0" fill="none" stroke="#d080a0" stroke-width="1.4" stroke-linejoin="round"  opacity="0.9"/>
<polyline points="396.0,221.0 424.0,221.0 431.1,220.1 436.2,219.1 440.1,217.8 442.9,216.3 445.0,214.3 449.7,208.9 452.4,206.7 453.5,206.1 455.2,205.4 457.3,205.1 459.4,205.4 461.0,206.1 462.6,207.0 464.5,208.6 466.0,210.2 467.8,212.4 469.7,215.3 471.7,218.8 472.4,219.7 473.2,220.1 474.4,220.4 478.5,220.8 482.2,221.0 693.0,221.0" fill="none" stroke="#b86070" stroke-width="1.5" stroke-linejoin="round"  opacity="0.9"/>
<polyline points="396.0,221.0 424.0,221.0 431.1,219.2 434.0,218.1 436.2,217.1 438.4,215.8 440.1,214.5 441.4,213.2 442.9,211.2 445.0,207.3 449.7,196.2 451.1,193.6 452.4,191.6 453.5,190.3 455.2,189.0 457.3,188.4 459.4,189.0 461.0,190.3 462.6,192.3 464.5,195.5 466.0,198.8 467.8,203.4 469.7,209.2 471.7,216.4 472.4,218.3 473.2,219.0 474.4,219.7 476.2,220.2 478.5,220.6 482.2,221.0 693.0,221.0" fill="none" stroke="#dca0c8" stroke-width="1.5" stroke-linejoin="round"  opacity="0.9"/>
<polyline points="397.0,221.3 419.4,221.2 432.2,220.9 440.6,220.3 453.2,218.7 458.0,218.4 465.0,218.6 479.4,220.0 487.2,220.4 500.8,220.2 503.2,219.9 504.0,219.6 504.6,219.1 505.4,217.8 505.8,216.1 506.2,212.3 506.4,208.3 506.8,185.1 507.2,122.5 507.6,185.1 508.0,208.3 508.4,214.6 508.8,217.1 509.4,218.6 510.4,219.5 511.6,219.9 513.6,220.1 516.2,220.1 518.0,219.8 518.8,219.5 519.4,218.9 519.8,218.2 520.2,216.9 520.6,213.6 521.0,203.5 521.5,169.2 522.0,203.5 522.4,213.6 522.8,216.8 523.2,218.2 523.8,219.1 524.6,219.5 525.4,219.6 526.2,219.5 527.2,218.9 527.8,217.7 528.2,215.6 528.6,209.9 529.2,186.8 529.8,209.9 530.2,215.6 530.6,217.7 531.0,218.6 531.6,219.3 532.4,219.6 533.6,219.7 534.6,219.5 535.4,218.8 535.8,217.9 536.2,215.7 536.4,213.5 537.0,201.7 537.8,215.6 538.2,217.7 538.6,218.5 539.0,218.8 539.4,218.7 539.8,218.3 540.2,217.1 541.0,209.9 541.6,215.9 542.0,217.9 542.4,218.7 543.0,219.1 543.6,219.0 544.0,218.5 544.6,216.1 545.3,208.4 546.0,216.1 546.4,218.0 546.8,218.7 547.4,219.0 548.0,218.6 549.0,215.0 549.8,218.3 550.4,219.3 551.2,219.5 551.8,219.2 552.2,218.7 553.0,216.9 553.8,218.8 554.2,219.4 555.0,219.9 556.0,220.1 557.6,220.1 558.6,219.7 559.0,219.4 560.0,217.9 561.0,219.4 561.8,220.0 563.0,220.2 565.6,220.4 629.4,221.3 692.0,221.3" fill="none" stroke="#dc2a2c" stroke-width="1.5" stroke-linejoin="round" opacity="0.85"/>
<line x1="510" y1="221" x2="510" y2="211" stroke="#eeaa66" stroke-width="1"/>
<line x1="513" y1="221" x2="513" y2="215" stroke="#eeaa66" stroke-width="1"/>
<line x1="519" y1="221" x2="519" y2="216" stroke="#eeaa66" stroke-width="1"/>
<line x1="525" y1="221" x2="525" y2="217" stroke="#eeaa66" stroke-width="1"/>
<polyline points="396.0,221.0 408.1,220.8 413.8,216.5 416.6,214.0 419.7,210.9 421.9,208.4 424.3,205.3 426.4,202.2 428.3,199.1 430.0,196.0 432.8,189.8 435.0,183.6 436.8,177.4 438.2,171.3 440.0,162.0 442.3,146.5 448.1,100.0 449.5,90.7 451.1,81.4 452.5,75.2 453.4,72.1 454.6,69.0 457.3,66.2 460.0,69.0 461.1,72.1 462.0,75.2 464.0,84.5 466.4,100.0 468.3,115.5 470.5,137.2 472.6,162.0 475.4,199.1 476.1,205.3 477.0,209.0 478.0,211.5 478.7,212.8 479.7,214.0 481.9,215.9 484.1,217.1 487.0,218.3 491.0,219.6 496.5,220.8 693.0,221.0" fill="none" stroke="#6ab06a" stroke-width="1.5" stroke-linejoin="round"  opacity="0.9"/>
<polyline points="396.0,221.0 405.2,220.8 410.4,217.2 415.5,212.9 420.3,208.0 424.6,202.5 428.3,196.4 429.9,193.4 432.5,187.3 434.6,181.2 436.3,175.1 437.8,169.0 439.5,159.9 441.8,144.6 447.1,105.0 448.5,95.9 450.1,86.7 451.5,80.6 453.2,74.5 454.5,71.5 457.3,68.7 460.0,71.5 461.2,74.5 462.2,77.6 464.2,86.7 466.7,102.0 468.6,117.2 470.9,138.5 473.1,162.9 476.0,199.5 476.7,205.6 477.6,209.2 478.6,211.7 479.4,212.9 480.4,214.1 482.7,215.9 484.9,217.2 487.9,218.4 492.0,219.6 497.6,220.8 693.0,221.0" fill="none" stroke="#5aa05a" stroke-width="1.2" stroke-linejoin="round"  opacity="0.9"/>
<polyline points="396.0,221.0 408.1,220.8 413.8,216.0 416.6,213.2 419.7,209.8 421.9,207.0 424.3,203.5 426.4,200.1 428.3,196.6 430.0,193.2 432.8,186.3 435.0,179.4 436.8,172.5 438.2,165.6 440.0,155.3 442.3,138.0 448.1,86.3 449.5,75.9 451.1,65.6 452.5,58.7 453.4,55.2 454.6,51.8 457.3,48.6 460.0,51.8 461.1,55.2 462.0,58.7 464.0,69.0 466.4,86.3 468.3,103.5 470.5,127.7 472.6,155.3 475.4,196.6 476.1,203.5 477.0,207.7 478.0,210.4 478.7,211.8 479.7,213.2 481.9,215.3 484.1,216.7 487.0,218.0 491.0,219.4 496.5,220.8 693.0,221.0" fill="none" stroke="#6f8fb8" stroke-width="1.5" stroke-linejoin="round"  opacity="0.9"/>
<polyline points="396.0,221.0 408.1,220.7 413.8,215.1 416.6,211.9 419.7,207.9 421.9,204.7 424.3,200.7 426.4,196.6 428.3,192.6 430.0,188.6 432.8,180.6 435.0,172.5 436.8,164.5 438.2,156.5 440.0,144.4 442.3,124.3 448.1,64.0 449.5,52.0 451.1,39.9 452.5,31.9 453.4,27.9 454.6,23.8 457.3,20.1 460.0,23.8 461.1,27.9 462.0,31.9 464.0,43.9 466.4,64.0 468.3,84.1 470.5,112.2 472.6,144.4 475.4,192.6 476.1,200.7 477.0,205.5 478.0,208.7 478.7,210.3 479.7,211.9 481.9,214.3 484.1,215.9 487.0,217.5 491.0,219.1 496.5,220.7 693.0,221.0" fill="none" stroke="#eeaa66" stroke-width="1.5" stroke-linejoin="round"  opacity="0.9"/>
<line x1="398" y1="220.7" x2="691" y2="220.7" stroke="#d8a0c0" stroke-width="1.6" opacity="0.8"/>
<line x1="500" y1="220.7" x2="575" y2="220.7" stroke="#d04060" stroke-width="2" opacity="0.7"/></g></g>
<rect x="606.5" y="11" width="84" height="126.5" fill="#fff" fill-opacity="0.93" stroke="#e0e0e0" stroke-width="0.8" rx="1.5"/>
<line x1="610.5" y1="22.6" x2="631.5" y2="22.6" stroke="#7f9ab8" stroke-width="1.6" opacity="0.8"/>
<text x="639" y="26.6" font-size="11" fill="#333" stroke="#333" stroke-width="0.3"><tspan font-size="7" dy="-3.5">235</tspan><tspan dy="3.5">U(n,f)</tspan></text>
<line x1="610.5" y1="37.9" x2="631.5" y2="37.9" stroke="#e8b47a" stroke-width="1.6" opacity="0.8"/>
<text x="639" y="41.9" font-size="11" fill="#333" stroke="#333" stroke-width="0.3"><tspan font-size="7" dy="-3.5">235</tspan><tspan dy="3.5">U(n,a)</tspan></text>
<line x1="610.5" y1="53.1" x2="631.5" y2="53.1" stroke="#cc6a78" stroke-width="1.6" opacity="0.8"/>
<text x="639" y="57.1" font-size="11" fill="#333" stroke="#333" stroke-width="0.3"><tspan font-size="7" dy="-3.5">238</tspan><tspan dy="3.5">U(n,a)</tspan></text>
<line x1="610.5" y1="68.3" x2="631.5" y2="68.3" stroke="#88a888" stroke-width="1.6" opacity="0.8"/>
<text x="639" y="72.3" font-size="11" fill="#333" stroke="#333" stroke-width="0.3"><tspan font-size="7" dy="-3.5">6</tspan><tspan dy="3.5">Li(n,a)</tspan></text>
<line x1="610.5" y1="83.6" x2="631.5" y2="83.6" stroke="#cc7a90" stroke-width="1.6" opacity="0.8"/>
<text x="639" y="87.6" font-size="11" fill="#333" stroke="#333" stroke-width="0.3"><tspan font-size="7" dy="-3.5">7</tspan><tspan dy="3.5">Li(n,a)</tspan></text>
<line x1="610.5" y1="98.8" x2="631.5" y2="98.8" stroke="#b098c0" stroke-width="1.6" opacity="0.8"/>
<text x="639" y="102.8" font-size="11" fill="#333" stroke="#333" stroke-width="0.3"><tspan font-size="7" dy="-3.5">9</tspan><tspan dy="3.5">Be(n,a)</tspan></text>
<line x1="610.5" y1="114.1" x2="631.5" y2="114.1" stroke="#a88880" stroke-width="1.6" opacity="0.8"/>
<text x="639" y="118.1" font-size="11" fill="#333" stroke="#333" stroke-width="0.3"><tspan font-size="7" dy="-3.5">19</tspan><tspan dy="3.5">F(n,a)</tspan></text>
<line x1="610.5" y1="129.3" x2="631.5" y2="129.3" stroke="#e0a8d0" stroke-width="1.6" opacity="0.8"/>
<text x="639" y="133.3" font-size="11" fill="#333" stroke="#333" stroke-width="0.3"><tspan font-size="7" dy="-3.5">12</tspan><tspan dy="3.5">C(n,a)</tspan></text>
<rect x="398" y="10" width="293" height="221" fill="none" stroke="#707070" stroke-width="1.1"/>
<line x1="398.0" y1="231" x2="398.0" y2="234.5" stroke="#555" stroke-width="0.9"/>
<text x="398.0" y="243.5" font-size="10.3" fill="#4a4a4a" stroke="#4a4a4a" stroke-width="0.6" text-anchor="middle">10<tspan font-size="7" dy="-4.5">−9</tspan></text>
<line x1="454.7" y1="231" x2="454.7" y2="234.5" stroke="#555" stroke-width="0.9"/>
<text x="454.7" y="243.5" font-size="10.3" fill="#4a4a4a" stroke="#4a4a4a" stroke-width="0.6" text-anchor="middle">10<tspan font-size="7" dy="-4.5">−7</tspan></text>
<line x1="511.4" y1="231" x2="511.4" y2="234.5" stroke="#555" stroke-width="0.9"/>
<text x="511.4" y="243.5" font-size="10.3" fill="#4a4a4a" stroke="#4a4a4a" stroke-width="0.6" text-anchor="middle">10<tspan font-size="7" dy="-4.5">−5</tspan></text>
<line x1="568.1" y1="231" x2="568.1" y2="234.5" stroke="#555" stroke-width="0.9"/>
<text x="568.1" y="243.5" font-size="10.3" fill="#4a4a4a" stroke="#4a4a4a" stroke-width="0.6" text-anchor="middle">10<tspan font-size="7" dy="-4.5">−3</tspan></text>
<line x1="624.8" y1="231" x2="624.8" y2="234.5" stroke="#555" stroke-width="0.9"/>
<text x="624.8" y="243.5" font-size="10.3" fill="#4a4a4a" stroke="#4a4a4a" stroke-width="0.6" text-anchor="middle">10<tspan font-size="7" dy="-4.5">−1</tspan></text>
<line x1="681.5" y1="231" x2="681.5" y2="234.5" stroke="#555" stroke-width="0.9"/>
<text x="681.5" y="243.5" font-size="10.3" fill="#4a4a4a" stroke="#4a4a4a" stroke-width="0.6" text-anchor="middle">10<tspan font-size="7" dy="-4.5">1</tspan></text>
<line x1="394.5" y1="221.3" x2="398" y2="221.3" stroke="#555" stroke-width="0.9"/>
<text x="393" y="225.1" font-size="10.3" fill="#4a4a4a" stroke="#4a4a4a" stroke-width="0.6" text-anchor="end">0.000</text>
<line x1="394.5" y1="179.4" x2="398" y2="179.4" stroke="#555" stroke-width="0.9"/>
<text x="393" y="183.2" font-size="10.3" fill="#4a4a4a" stroke="#4a4a4a" stroke-width="0.6" text-anchor="end">0.005</text>
<line x1="394.5" y1="137.6" x2="398" y2="137.6" stroke="#555" stroke-width="0.9"/>
<text x="393" y="141.4" font-size="10.3" fill="#4a4a4a" stroke="#4a4a4a" stroke-width="0.6" text-anchor="end">0.010</text>
<line x1="394.5" y1="95.7" x2="398" y2="95.7" stroke="#555" stroke-width="0.9"/>
<text x="393" y="99.5" font-size="10.3" fill="#4a4a4a" stroke="#4a4a4a" stroke-width="0.6" text-anchor="end">0.015</text>
<line x1="394.5" y1="53.9" x2="398" y2="53.9" stroke="#555" stroke-width="0.9"/>
<text x="393" y="57.7" font-size="10.3" fill="#4a4a4a" stroke="#4a4a4a" stroke-width="0.6" text-anchor="end">0.020</text>
<line x1="394.5" y1="12.0" x2="398" y2="12.0" stroke="#555" stroke-width="0.9"/>
<text x="393" y="15.8" font-size="10.3" fill="#4a4a4a" stroke="#4a4a4a" stroke-width="0.6" text-anchor="end">0.025</text>
<text x="544" y="255.3" font-size="12.2" fill="#3c3c3c" stroke="#3c3c3c" stroke-width="0.55" text-anchor="middle">Neutron energy (MeV)</text>
<text transform="translate(361.5,120) rotate(-90)" font-size="12.4" fill="#3a3a3a" stroke="#3a3a3a" stroke-width="0.15" text-anchor="middle">Normalized reaction rate</text>
<text x="428" y="27.6" font-size="15" font-weight="bold" fill="#222" stroke="#222" stroke-width="0.4" text-anchor="middle">(b)</text>
<text x="515" y="136" font-family="Liberation Serif" font-weight="bold" fill="#222"><tspan font-size="9" dy="-4.5">238</tspan><tspan font-size="13.2" dy="4.5">U(n, γ)</tspan></text>
<line x1="529.5" y1="137" x2="511.5" y2="160.5" stroke="#222" stroke-width="1.2"/>
<polygon points="508.3,165.5 509.2,156.5 515,160.8" fill="#222"/>
<text x="610.3" y="191.5" font-family="Liberation Serif" font-weight="bold" fill="#222"><tspan font-size="9" dy="-4.5">9</tspan><tspan font-size="12.9" dy="4.5">Be,</tspan><tspan font-size="9" dy="-4.5">19</tspan><tspan font-size="12.9" dy="4.5">F(n, α)</tspan></text>
<line x1="655" y1="196" x2="660" y2="202" stroke="#222" stroke-width="0.9"/>
<polygon points="662,205 656.5,201.5 661,199" fill="#222"/>
<ellipse cx="667" cy="213.5" rx="13.5" ry="8.8" fill="none" stroke="#333" stroke-width="1.3"/>
</svg>
</body></html>
